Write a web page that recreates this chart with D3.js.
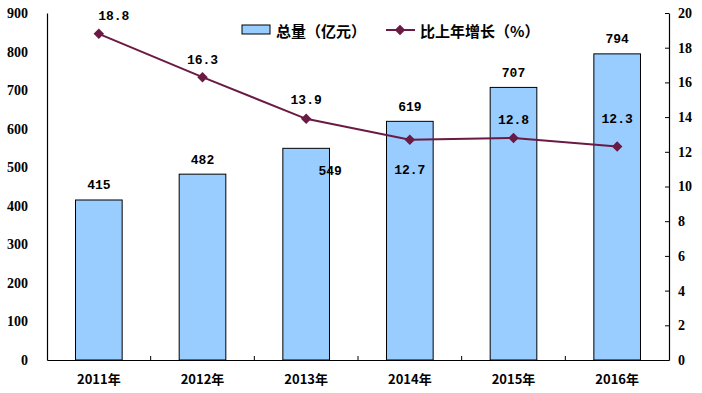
<!DOCTYPE html>
<html><head><meta charset="utf-8">
<script src="https://cdn.jsdelivr.net/npm/d3@7"></script>
<style>body{margin:0;background:#fff}svg{display:block}</style>
</head><body>
<svg id="c" width="702" height="393"></svg>
<script>
const categories = ["2011年","2012年","2013年","2014年","2015年","2016年"];
const totals = [415, 482, 549, 619, 707, 794];
const growth = [18.8, 16.3, 13.9, 12.7, 12.8, 12.3];
const leftTicks = [0,100,200,300,400,500,600,700,800,900];
const rightTicks = [0,2,4,6,8,10,12,14,16,18,20];
const legendLabels = ["总量（亿元）","比上年增长（%）"];

const svg = d3.select("#c");
const L = 47, R = 669, T = 13, B = 360;
const x = d3.scaleBand().domain(categories).range([L, R]).paddingInner(0).paddingOuter(0);
const yL = d3.scaleLinear().domain([0, 900]).range([B, T]);
const yR = d3.scaleLinear().domain([0, 20]).range([B, T]);
const lineColor = "#6B1A43";
const numFont = "'Liberation Serif', 'DejaVu Serif', serif";
const monoFont = "'Liberation Mono', 'DejaVu Sans Mono', monospace";

// bars
const bw = x.bandwidth() * 0.45;
svg.append("g").selectAll("rect").data(totals).join("rect")
  .attr("x", (d,i) => x(categories[i]) + x.bandwidth()/2 - bw/2)
  .attr("y", d => yL(d))
  .attr("width", bw)
  .attr("height", d => B - yL(d))
  .attr("fill", "#99CCFF").attr("stroke", "#000").attr("stroke-width", 1);

// axes
const axL = svg.append("g").attr("transform", `translate(${L},0)`)
  .call(d3.axisLeft(yL).tickValues(leftTicks).tickSize(0).tickPadding(19));
const axR = svg.append("g").attr("transform", `translate(${R},0)`)
  .call(d3.axisRight(yR).tickValues(rightTicks).tickSizeInner(-4).tickSizeOuter(0).tickPadding(9));
const axB = svg.append("g").attr("transform", `translate(0,${B})`)
  .call(d3.axisBottom(x).tickSize(0).tickPadding(15));
[axL, axR, axB].forEach(g => {
  g.attr("font-family", null).attr("font-size", null);
  g.select(".domain").attr("stroke", "#000").attr("stroke-width", 1.2);
  g.selectAll("text").style("font-family", numFont).style("font-weight", "bold").style("font-size", "14px").attr("fill", "#000");
  g.selectAll("line").attr("stroke", "#000");
});
axB.selectAll("text").style("font-family", "'Noto Sans CJK SC', sans-serif").style("font-size", "13px");
// category boundary ticks on bottom axis
svg.append("g").selectAll("line").data(categories.slice(1)).join("line")
  .attr("x1", d => x(d)).attr("x2", d => x(d))
  .attr("y1", B).attr("y2", B - 4).attr("stroke", "#000");

// line
const cx = i => x(categories[i]) + x.bandwidth()/2;
const line = d3.line().x((d,i) => cx(i)).y(d => yR(d));
svg.append("path").datum(growth).attr("d", line)
  .attr("fill", "none").attr("stroke", lineColor).attr("stroke-width", 2);
svg.append("g").selectAll("path").data(growth).join("path")
  .attr("d", d3.symbol(d3.symbolDiamond2 || d3.symbolDiamond, 70))
  .attr("transform", (d,i) => `translate(${cx(i)},${yR(d)})`)
  .attr("fill", lineColor);

// bar labels
const barLabelDx = [0, 0, 24, 0, 0, 0];
const barLabelDy = [-14, -14, 23, -14, -14, -14];
svg.append("g").selectAll("text").data(totals).join("text")
  .attr("x", (d,i) => cx(i) + barLabelDx[i])
  .attr("y", (d,i) => yL(d) + barLabelDy[i])
  .attr("text-anchor", "middle").attr("dominant-baseline", "central")
  .style("font-family", monoFont).style("font-weight", "bold").style("font-size", "13px")
  .text(d => d);

// growth labels
const gDx = [15, 0, 0, 0, 0, 0];
const gDy = [-17, -17, -18, 31, -17, -27];
svg.append("g").selectAll("text").data(growth).join("text")
  .attr("x", (d,i) => cx(i) + gDx[i])
  .attr("y", (d,i) => yR(d) + gDy[i])
  .attr("text-anchor", "middle").attr("dominant-baseline", "central")
  .style("font-family", monoFont).style("font-weight", "bold").style("font-size", "13px")
  .text(d => d.toFixed(1));

// legend
const lg = svg.append("g");
lg.append("rect").attr("x", 242).attr("y", 25).attr("width", 28).attr("height", 9)
  .attr("fill", "#99CCFF").attr("stroke", "#000");
lg.append("text").attr("x", 276).attr("y", 30).attr("dominant-baseline", "central")
  .style("font-family", "'Noto Sans CJK SC', sans-serif").style("font-weight", "bold").style("font-size", "15px")
  .text(legendLabels[0]);
lg.append("line").attr("x1", 386).attr("x2", 415).attr("y1", 30).attr("y2", 30)
  .attr("stroke", lineColor).attr("stroke-width", 2);
lg.append("path").attr("d", d3.symbol(d3.symbolDiamond2 || d3.symbolDiamond, 70))
  .attr("transform", "translate(400,30)").attr("fill", lineColor);
lg.append("text").attr("x", 420).attr("y", 30).attr("dominant-baseline", "central")
  .style("font-family", "'Noto Sans CJK SC', sans-serif").style("font-weight", "bold").style("font-size", "15px")
  .text(legendLabels[1]);
</script>
</body></html>
